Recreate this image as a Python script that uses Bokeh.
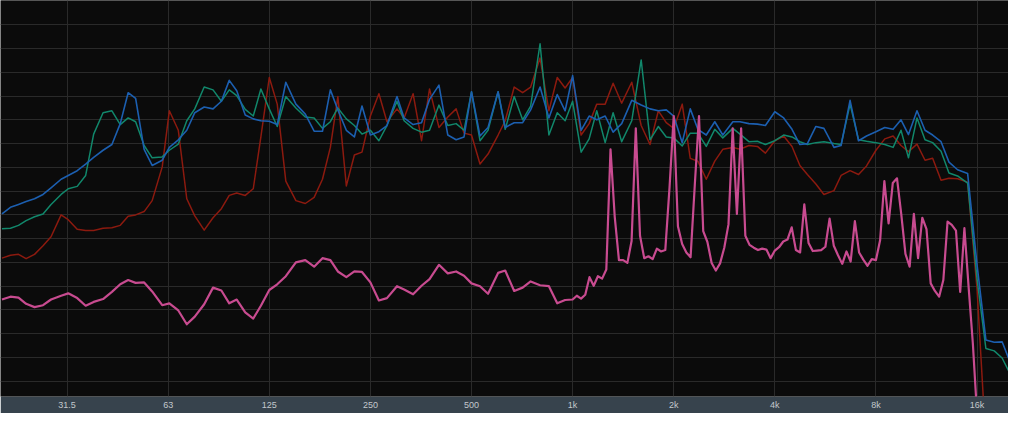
from bokeh.plotting import figure
from bokeh.models import Range1d, FixedTicker
from bokeh.embed import file_html
from bokeh.resources import INLINE

# 1/12-octave analysis bands (Hz) shared by the blue, green and red traces
freq = [20, 21.2, 22.4, 23.6, 25, 26.5, 28, 30, 31.5, 33.5, 35.5, 37.5, 40, 42.5, 45, 47.5,
        50, 53, 56, 60, 63, 67, 71, 75, 80, 85, 90, 95, 100, 106, 112, 118, 125, 132, 140, 150,
        160, 170, 180, 190, 200, 212, 224, 236, 250, 265, 280, 300, 315, 335, 355, 375, 400,
        425, 450, 475, 500, 530, 560, 600, 630, 670, 710, 750, 800, 850, 900, 950, 1000, 1060,
        1120, 1180, 1250, 1320, 1400, 1500, 1600, 1700, 1800, 1900, 2000, 2120, 2240, 2360,
        2500, 2650, 2800, 3000, 3150, 3350, 3550, 3750, 4000, 4250, 4500, 4750, 5000, 5300,
        5600, 6000, 6300, 6700, 7100, 7500, 8000, 8500, 9000, 9500, 10000, 10600, 11200,
        11800, 12500, 13200, 14000, 15000, 16000, 17000, 18000, 19000, 20000]

blue_db = [-44.8, -43.4, -42.8, -42.2, -41.6, -40.7, -39.3, -37.5, -36.7, -35.7,
           -34.3, -32.9, -31.4, -30.2, -25.8, -19.3, -20.5, -31.2, -34.6, -33.5,
           -30.8, -29.2, -27.2, -23.5, -22.3, -22.7, -21.1, -16.7, -18.9, -24.0,
           -24.8, -25.2, -25.3, -26.0, -17.1, -21.7, -23.8, -27.4, -27.4, -18.7,
           -22.9, -27.2, -28.6, -22.1, -28.2, -27.5, -26.2, -20.1, -24.6, -26.0,
           -25.6, -20.7, -17.7, -28.2, -29.2, -28.6, -19.1, -28.4, -26.6, -19.1,
           -26.6, -25.6, -25.6, -22.9, -18.1, -24.6, -19.7, -23.1, -15.7, -27.2,
           -24.2, -25.0, -24.2, -27.6, -25.8, -20.9, -21.9, -22.7, -23.1, -22.9,
           -24.2, -29.8, -22.7, -27.0, -28.2, -25.4, -28.2, -25.4, -25.4, -25.8,
           -25.9, -26.2, -23.3, -24.6, -27.0, -30.2, -30.0, -26.4, -26.8, -30.8,
           -30.4, -20.9, -29.4, -28.4, -27.5, -26.6, -27.0, -25.0, -28.1, -23.1,
           -27.2, -28.2, -29.6, -33.9, -35.5, -36.3, -55.5, -71.3, -71.8, -71.7,
           -75.7]

green_db = [-47.9, -47.8, -47.2, -46.2, -45.4, -44.8, -42.8, -40.7, -39.5, -39.0,
            -36.7, -28.0, -23.5, -23.1, -26.0, -24.6, -25.4, -30.4, -33.0, -32.8,
            -31.4, -30.1, -25.2, -22.7, -18.1, -18.7, -21.1, -18.7, -19.9, -22.8,
            -24.2, -18.5, -22.7, -26.4, -20.1, -22.5, -24.4, -24.6, -26.8, -25.4,
            -22.5, -24.8, -26.2, -28.0, -27.2, -29.4, -26.2, -21.1, -25.2, -26.8,
            -27.6, -27.2, -21.9, -26.2, -25.8, -27.2, -19.1, -29.4, -27.2, -19.1,
            -27.0, -20.1, -25.0, -22.1, -9.0, -28.2, -23.5, -25.2, -21.1, -31.8,
            -29.0, -23.1, -29.8, -23.5, -29.6, -25.2, -12.4, -29.2, -26.4, -28.6,
            -28.8, -30.5, -27.8, -27.8, -30.6, -27.0, -28.8, -26.8, -28.0, -29.6,
            -29.5, -30.2, -29.4, -28.2, -28.6, -29.6, -30.2, -29.8, -29.6, -30.0,
            -30.2, -21.7, -29.2, -29.5, -29.8, -30.2, -30.8, -27.2, -33.0, -24.6,
            -29.2, -29.8, -31.6, -36.2, -36.8, -38.3, -58.5, -73.1, -73.6, -75.1,
            -78.2]

red_db = [-54.1, -53.5, -53.3, -54.2, -53.3, -51.5, -49.6, -45.0, -46.0, -48.0,
          -48.3, -48.3, -47.8, -47.7, -47.2, -45.3, -45.0, -44.3, -42.0, -34.9,
          -23.1, -27.2, -41.6, -45.2, -48.2, -45.6, -43.7, -40.9, -40.4, -40.9,
          -39.5, -28.6, -16.1, -21.7, -37.9, -42.0, -42.6, -41.3, -37.5, -30.8,
          -20.1, -38.9, -32.4, -31.8, -24.2, -19.5, -25.4, -22.7, -24.6, -19.5,
          -29.4, -18.5, -26.6, -24.4, -22.7, -27.8, -28.2, -34.3, -32.2, -28.2,
          -25.2, -18.1, -19.3, -18.1, -12.0, -23.1, -16.1, -18.3, -16.1, -28.2,
          -25.8, -21.7, -21.7, -17.3, -21.5, -17.1, -26.2, -30.2, -23.1, -25.6,
          -26.8, -21.7, -33.1, -33.7, -37.5, -33.7, -31.2, -30.8, -31.2, -30.4,
          -30.6, -32.0, -29.4, -28.4, -30.6, -34.6, -36.5, -38.5, -40.7, -39.9,
          -36.7, -35.7, -36.5, -34.7, -31.4, -29.0, -28.4, -30.4, -31.7, -30.1,
          -33.5, -33.1, -37.7, -37.3, -37.4, -38.1, -60.6, -93.0]

# magenta trace: 1/12 octave below 1 kHz, 1/24 octave above
magenta_freq = [20, 21.2, 22.4, 23.6, 25, 26.5, 28, 30, 31.5, 33.5, 35.5, 37.5, 40, 42.5, 45,
                47.5, 50, 53, 56, 60, 63, 67, 71, 75, 80, 85, 90, 95, 100, 106, 112, 118, 125,
                132, 140, 150, 160, 170, 180, 190, 200, 212, 224, 236, 250, 265, 280, 300, 315,
                335, 355, 375, 400, 425, 450, 475, 500, 530, 560, 600, 630, 670, 710, 750, 800,
                850, 900, 950,
                1000, 1029.3, 1059.5, 1090.5, 1122.5, 1155.4, 1189.2, 1224.1, 1259.9, 1296.8,
                1334.8, 1373.9, 1414.2, 1455.6, 1498.3, 1542.2, 1587.4, 1633.9, 1681.8, 1731.1,
                1781.8, 1834.0, 1887.7, 1943.0,
                2000, 2058.6, 2119.0, 2181.0, 2245.0, 2310.8, 2378.4, 2448.2, 2519.8, 2593.6,
                2669.6, 2747.8, 2828.4, 2911.2, 2996.6, 3084.4, 3174.8, 3267.8, 3363.6, 3462.2,
                3563.6, 3668.0, 3775.4, 3886.0,
                4000, 4117, 4238, 4362, 4490, 4622, 4757, 4896, 5040, 5187, 5339, 5496, 5657,
                5822, 5993, 6169, 6350, 6536, 6727, 6924, 7127, 7336, 7551, 7772,
                8000, 8234, 8476, 8724, 8980, 9243, 9514, 9793, 10079, 10375, 10679, 10992,
                11314, 11645, 11986, 12338, 12699, 13071, 13454, 13849, 14254, 14672, 15102,
                15545, 16000]

magenta_db = [-62.8, -62.2, -62.4, -63.7, -64.4, -64.0, -62.8, -62.0, -61.5, -62.5,
              -64.1, -63.3, -62.7, -61.2, -59.6, -58.7, -59.3, -59.2, -61.1, -64.0,
              -63.6, -65.1, -68.0, -66.4, -63.8, -60.3, -60.9, -63.6, -62.8, -65.5,
              -66.8, -64.1, -60.8, -59.6, -57.9, -55.0, -54.5, -55.9, -54.1, -54.5,
              -56.9, -58.1, -56.9, -57.0, -59.2, -63.0, -62.5, -60.0, -60.7, -61.7,
              -59.9, -58.5, -55.5, -57.3, -56.9, -57.8, -59.4, -60.0, -61.6, -57.2,
              -56.7, -61.0, -60.3, -59.0, -59.8, -60.0, -63.6, -62.9,
              -62.8, -62.0, -62.6, -61.8, -58.1, -59.9, -57.9, -58.4, -56.5, -31.2,
              -45.4, -54.5, -54.5, -55.1, -50.5, -26.8, -49.4, -54.1, -53.7, -54.3,
              -52.1, -52.7, -52.4, -39.3, -24.2, -47.4, -51.1, -52.9, -53.9, -38.7,
              -24.2, -48.4, -50.7, -55.1, -56.7, -55.2, -51.9, -47.0, -26.8, -44.8,
              -26.8, -49.4, -51.3, -51.9, -52.4, -52.1, -52.3, -54.1, -52.5, -51.8,
              -50.6, -50.2, -47.6, -52.4, -52.9, -42.8, -50.9, -52.6, -52.5, -52.4,
              -51.7, -45.8, -51.5, -53.5, -55.3, -52.7, -54.8, -46.3, -52.9, -54.4,
              -55.7, -54.3, -54.5, -50.3, -37.9, -46.8, -38.3, -37.3, -44.8, -53.2,
              -55.9, -44.8, -54.1, -45.6, -48.0, -59.4, -61.0, -62.2, -58.7, -46.4,
              -47.1, -48.3, -61.2, -47.8, -60.2, -72.0, -86.9]

tick_freqs = [31.25, 62.5, 125, 250, 500, 1000, 2000, 4000, 8000, 16000]
tick_labels = ["31.5", "63", "125", "250", "500", "1k", "2k", "4k", "8k", "16k"]
level_grid = [-80, -75, -70, -65, -60, -55, -50, -45, -40, -35, -30, -25, -20, -15, -10, -5, 0]

p = figure(width=1008, height=413, x_axis_type="log",
           x_range=Range1d(19.8, 19850), y_range=Range1d(-83.2, 0.1),
           output_backend="svg", toolbar_location=None,
           min_border_left=0, min_border_right=0, min_border_top=0, min_border_bottom=17)
p.background_fill_color = "#0b0b0b"
p.border_fill_color = "#37434d"
p.outline_line_color = None
p.yaxis.visible = False

xa = p.xaxis[0]
xa.ticker = FixedTicker(ticks=tick_freqs)
xa.major_label_overrides = dict(zip(tick_freqs, tick_labels))
xa.major_tick_line_color = None
xa.minor_tick_line_color = None
xa.major_tick_in = 0
xa.major_tick_out = 0
xa.axis_line_color = None
xa.major_label_text_color = "#c3c8cc"
xa.major_label_text_font = "Liberation Sans"
xa.major_label_text_font_size = "9px"
xa.major_label_standoff = 3

p.xgrid.ticker = FixedTicker(ticks=tick_freqs)
p.ygrid.ticker = FixedTicker(ticks=level_grid)
p.xgrid.grid_line_color = "#2a2a2a"
p.ygrid.grid_line_color = "#2a2a2a"
p.xgrid.grid_line_width = 1
p.ygrid.grid_line_width = 1

p.line(freq[:len(red_db)], red_db, line_color="#8c1a0f", line_width=1.5, line_join="round")
p.line(freq, green_db, line_color="#11876b", line_width=1.5, line_join="round")
p.line(freq, blue_db, line_color="#1c5fb0", line_width=1.6, line_join="round")
p.line(magenta_freq, magenta_db, line_color="#c84b90", line_width=2.2, line_join="round")

open("out.html", "w").write(file_html(p, INLINE))
